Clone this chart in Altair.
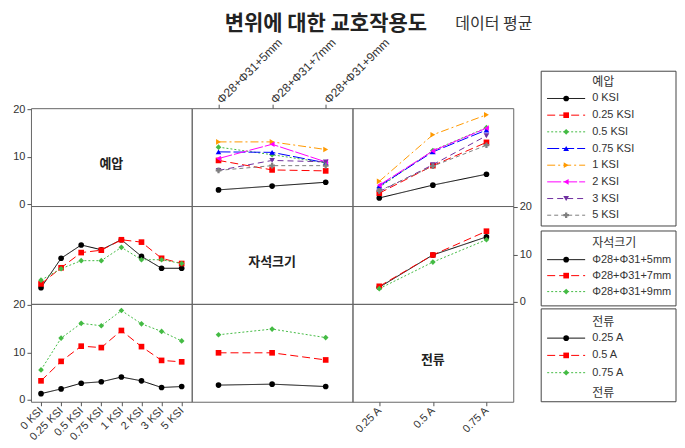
import altair as alt
import pandas as pd

# ---------------- data ----------------
PRELOAD = ["0 KSI", "0.25 KSI", "0.5 KSI", "0.75 KSI", "1 KSI", "2 KSI", "3 KSI", "5 KSI"]
MAGNET = ["Φ28+Φ31+5mm", "Φ28+Φ31+7mm", "Φ28+Φ31+9mm"]
CURRENT = ["0.25 A", "0.5 A", "0.75 A"]

# cell means  preload x magnet  (one list per magnet size, over PRELOAD)
PM_5MM = [3.0, 9.2, 12.0, 11.0, 13.1, 9.6, 7.1, 7.1]
PM_7MM = [3.8, 7.2, 10.4, 10.9, 13.1, 12.6, 9.2, 8.1]
PM_9MM = [4.6, 7.0, 8.7, 8.7, 11.5, 8.9, 8.9, 8.1]

# cell means  preload x current  (one list per current, over PRELOAD)
PC_025A = [1.3, 2.3, 3.5, 3.8, 4.8, 4.0, 2.6, 2.8]
PC_05A = [4.0, 8.1, 11.3, 11.0, 14.6, 11.2, 8.3, 8.0]
PC_075A = [6.3, 13.0, 16.1, 15.6, 18.8, 16.0, 14.4, 12.4]

# cell means  magnet x current  (one list per current, over MAGNET)
MC_025A = [3.1, 3.3, 2.8]
MC_05A = [9.9, 9.9, 8.4]
MC_075A = [13.7, 14.9, 13.1]

# ---------------- styles ----------------
P_COLORS = ["#000000", "#ff0000", "#44bb44", "#0000ff", "#ff9900", "#ff00ff", "#7030a0", "#808080"]
P_SHAPES = ["circle", "square", "diamond", "triangle-up", "triangle-right",
            "triangle-left", "triangle-down", "cross"]
P_DASH = [[1, 0], [8, 4], [2, 2], [12, 3], [8, 3, 2, 3], [14, 2], [6, 4], [4, 3]]
T_COLORS = ["#000000", "#ff0000", "#44bb44"]
T_SHAPES = ["circle", "square", "diamond"]
T_DASH = [[1, 0], [8, 4], [2, 2]]

STY = {
    "preload": (PRELOAD, P_COLORS, P_SHAPES, P_DASH),
    "magnet": (MAGNET, T_COLORS, T_SHAPES, T_DASH),
    "current": (CURRENT, T_COLORS, T_SHAPES, T_DASH),
}

FONT = "Liberation Sans, Noto Sans CJK KR, sans-serif"
KFONT = "Noto Sans CJK KR, sans-serif"
Y_DOMAIN = [-0.4, 20.2]
W, H = 161, 98


def long_df(xname, xvals, cname, cvals, series):
    rows = []
    for c, vals in zip(cvals, series):
        for i, (x, v) in enumerate(zip(xvals, vals)):
            rows.append({xname: x, cname: c, "value": v, "xi": i})
    return pd.DataFrame(rows)


pm = long_df("preload", PRELOAD, "magnet", MAGNET, [PM_5MM, PM_7MM, PM_9MM])
pc = long_df("preload", PRELOAD, "current", CURRENT, [PC_025A, PC_05A, PC_075A])
mc = long_df("magnet", MAGNET, "current", CURRENT, [MC_025A, MC_05A, MC_075A])


def enc_color(f):
    d, c, s, k = STY[f]
    return alt.Color(f"{f}:N", scale=alt.Scale(domain=d, range=c), legend=None)


def enc_shape(f):
    d, c, s, k = STY[f]
    return alt.Shape(f"{f}:N", scale=alt.Scale(domain=d, range=s), legend=None)


def enc_dash(f):
    d, c, s, k = STY[f]
    return alt.StrokeDash(f"{f}:N", scale=alt.Scale(domain=d, range=k), legend=None)


AX = dict(domain=False, grid=False, ticks=True, tickSize=4, tickColor="#555",
          labelColor="#333", labelFont=FONT, title=None)
y_left = alt.Axis(orient="left", values=[0, 10, 20], labelFontSize=11, labelPadding=2, **AX)
y_right = alt.Axis(orient="right", values=[0, 10, 20], labelFontSize=11, labelPadding=2, **AX)
x_top = alt.Axis(orient="top", labelAngle=-45, labelAlign="left", labelBaseline="middle",
                 labelFontSize=12, labelPadding=3, **AX)
x_bottom = alt.Axis(orient="bottom", labelAngle=-45, labelAlign="right", labelBaseline="middle",
                    labelFontSize=11, labelPadding=3, **AX)


def xenc(xf, axis):
    return alt.X(f"{xf}:N", scale=alt.Scale(type="point", domain=STY[xf][0], padding=0.5),
                 axis=axis, title=None)


def yenc(axis):
    return alt.Y("value:Q", scale=alt.Scale(domain=Y_DOMAIN, nice=False, zero=False),
                 axis=axis, title=None)


def data_layers(df, xf, cf, xaxis=None, yaxis=None):
    base = alt.Chart(df)
    x = xenc(xf, xaxis)
    y = yenc(yaxis)
    line = base.mark_line(strokeWidth=1).encode(
        x=x, y=y, color=enc_color(cf), strokeDash=enc_dash(cf), order=alt.Order("xi:Q"))
    pts = base.mark_point(filled=True, size=32, opacity=1).encode(
        x=x, y=y, color=enc_color(cf), shape=enc_shape(cf))
    return [line, pts]


def label_text(t):
    return alt.Chart(alt.Data(values=[{}])).mark_text(
        font=KFONT, fontSize=13, fontWeight="bold", color="#222", baseline="middle", align="center"
    ).encode(x=alt.value(W / 2), y=alt.value(56), text=alt.value(t))


# ---------------- legend (drawn next to the top-right panel) ----------------
LEG_L, LEG_R = 189, 324
LINE_X0, LINE_X1, MARK_X, TEXT_X = 195, 233, 214, 240
BOXES = [
    dict(field="preload", title="예압", top=-37, bottom=118, title_y=-26, y0=-9.7, dy=16.7),
    dict(field="magnet", title="자석크기", top=123, bottom=198, title_y=135, y0=151.7, dy=16.0),
    dict(field="current", title="전류", top=201, bottom=294, title_y=214, y0=230.3, dy=17.3,
         footer_y=285),
]


def legend_layers():
    out = []
    one = alt.Data(values=[{}])
    for b in BOXES:
        f = b["field"]
        dom = STY[f][0]
        ldf = pd.DataFrame({f: dom, "ly": [b["y0"] + i * b["dy"] for i in range(len(dom))]})
        out.append(alt.Chart(one).mark_rect(fill="white", stroke="#444", strokeWidth=1).encode(
            x=alt.value(LEG_L), x2=alt.value(LEG_R), y=alt.value(b["top"]), y2=alt.value(b["bottom"])))
        out.append(alt.Chart(one).mark_text(font=KFONT, fontSize=12, color="#333", align="left",
                                            baseline="middle").encode(
            x=alt.value(TEXT_X), y=alt.value(b["title_y"]), text=alt.value(b["title"])))
        ly = alt.Y("ly:Q", scale=None, axis=None)
        out.append(alt.Chart(ldf).mark_rule(strokeWidth=1).encode(
            x=alt.value(LINE_X0), x2=alt.value(LINE_X1), y=ly, color=enc_color(f), strokeDash=enc_dash(f)))
        out.append(alt.Chart(ldf).mark_point(filled=True, size=32, opacity=1).encode(
            x=alt.value(MARK_X), y=ly, color=enc_color(f), shape=enc_shape(f)))
        out.append(alt.Chart(ldf).mark_text(font=FONT, fontSize=11, color="#333", align="left",
                                            baseline="middle").encode(
            x=alt.value(TEXT_X), y=ly, text=f"{f}:N"))
        if "footer_y" in b:
            out.append(alt.Chart(one).mark_text(font=KFONT, fontSize=12, color="#333", align="left",
                                                baseline="middle").encode(
                x=alt.value(TEXT_X), y=alt.value(b["footer_y"]), text=alt.value(b["title"])))
    return out


# ---------------- panels ----------------
ind = dict(color="independent", shape="independent", strokeDash="independent")

P11 = alt.layer(
    alt.Chart(pm).mark_point(opacity=0).encode(y=yenc(y_left)),
    label_text("예압"),
).properties(width=W, height=H)

P12 = alt.layer(*data_layers(pm, "magnet", "preload", xaxis=x_top)).properties(
    width=W, height=H,
    title=alt.TitleParams("변위에 대한 교호작용도", anchor="start", dx=33, offset=2, font=KFONT,
                          fontSize=21, fontWeight="bold", color="#222"))

P13 = alt.layer(*data_layers(pc, "current", "preload"), *legend_layers()).properties(
    width=W, height=H,
    title=alt.TitleParams("데이터 평균", anchor="start", dx=103, offset=39, font=KFONT,
                          fontSize=16, fontWeight="normal", color="#333")
).resolve_scale(**ind)

P21 = alt.layer(*data_layers(pm, "preload", "magnet")).properties(width=W, height=H)
P22 = alt.layer(
    alt.Chart(mc).mark_point(opacity=0).encode(y=yenc(None)),
    label_text("자석크기"),
).properties(width=W, height=H)
P23 = alt.layer(*data_layers(mc, "current", "magnet", yaxis=y_right)).properties(width=W, height=H)

P31 = alt.layer(*data_layers(pc, "preload", "current", xaxis=x_bottom, yaxis=y_left)).properties(
    width=W, height=H)
P32 = alt.layer(*data_layers(mc, "magnet", "current")).properties(width=W, height=H)
P33 = alt.layer(
    alt.Chart(mc).mark_point(opacity=0).encode(x=xenc("current", x_bottom)),
    label_text("전류"),
).properties(width=W, height=H)

chart = alt.concat(
    P11, P12, P13, P21, P22, P23, P31, P32, P33, columns=3, spacing=0, bounds="flush"
).resolve_scale(
    x="independent", y="independent", **ind
).configure_view(
    stroke="#666", strokeWidth=1
).properties(
    padding={"left": 4, "top": 4, "right": 0, "bottom": 0}
)

chart.save("out.html", embed_options={"renderer": "svg", "actions": False})
